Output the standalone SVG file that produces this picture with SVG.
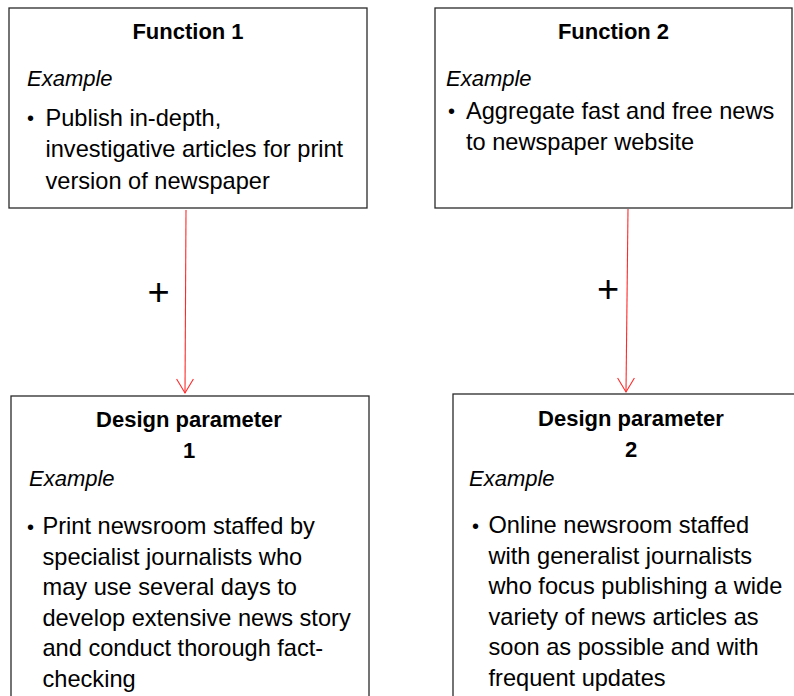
<svg xmlns="http://www.w3.org/2000/svg" width="794" height="696" viewBox="0 0 794 696">
  <style>
    .box { fill: #ffffff; stroke: #2a2a2a; stroke-width: 1.3; }
    .title { font-family: "Liberation Sans", Arial, sans-serif; font-weight: bold; font-size: 22px; fill: #000; text-anchor: middle; }
    .ex { font-family: "Liberation Sans", Arial, sans-serif; font-style: italic; font-size: 22px; fill: #000; }
    .body { font-family: "Liberation Sans", Arial, sans-serif; font-size: 23.6px; fill: #000; }
    .bullet { font-family: "Liberation Sans", Arial, sans-serif; font-size: 20px; fill: #000; }
    .plus { font-family: "Liberation Sans", Arial, sans-serif; font-size: 38px; fill: #000; text-anchor: middle; }
    .link { fill: none; stroke: #ff2a2a; stroke-width: 1.1; }
  </style>
  <rect width="794" height="696" fill="#ffffff"/>

  <g id="function1">
    <rect class="box" x="9" y="8" width="358" height="200"/>
    <text class="title" x="188" y="39">Function 1</text>
    <text class="ex" x="27" y="86">Example</text>
    <text class="bullet" x="27" y="124.5">•</text>
    <text class="body" x="45.5" y="125.5">Publish in-depth,</text>
    <text class="body" x="45.5" y="157">investigative articles for print</text>
    <text class="body" x="45.5" y="188.5">version of newspaper</text>
  </g>

  <g id="function2">
    <rect class="box" x="435" y="8" width="357" height="200"/>
    <text class="title" x="613.5" y="39">Function 2</text>
    <text class="ex" x="446" y="86">Example</text>
    <text class="bullet" x="448" y="118">•</text>
    <text class="body" x="466" y="118.5">Aggregate fast and free news</text>
    <text class="body" x="466" y="149.5">to newspaper website</text>
  </g>

  <g id="design1">
    <rect class="box" x="11" y="396" width="358" height="320"/>
    <text class="title" x="189" y="427">Design parameter</text>
    <text class="title" x="189" y="458">1</text>
    <text class="ex" x="29" y="485.5">Example</text>
    <text class="bullet" x="27" y="533.5">•</text>
    <text class="body" x="42.5" y="534">Print newsroom staffed by</text>
    <text class="body" x="42.5" y="564.6">specialist journalists who</text>
    <text class="body" x="42.5" y="595.2">may use several days to</text>
    <text class="body" x="42.5" y="625.8">develop extensive news story</text>
    <text class="body" x="42.5" y="656.4">and conduct thorough fact-</text>
    <text class="body" x="42.5" y="687">checking</text>
  </g>

  <g id="design2">
    <rect class="box" x="453" y="394" width="360" height="320"/>
    <text class="title" x="631" y="425.5">Design parameter</text>
    <text class="title" x="631" y="456.5">2</text>
    <text class="ex" x="469" y="485.5">Example</text>
    <text class="bullet" x="472" y="532.5">•</text>
    <text class="body" x="488.5" y="533">Online newsroom staffed</text>
    <text class="body" x="488.5" y="563.6">with generalist journalists</text>
    <text class="body" x="488.5" y="594.2">who focus publishing a wide</text>
    <text class="body" x="488.5" y="624.8">variety of news articles as</text>
    <text class="body" x="488.5" y="655.4">soon as possible and with</text>
    <text class="body" x="488.5" y="686">frequent updates</text>
  </g>

  <g id="connectors">
    <line class="link" x1="186" y1="210" x2="185" y2="393"/>
    <polyline class="link" points="176.6,379 185,393 193.4,379"/>
    <text class="plus" x="158.5" y="305">+</text>

    <line class="link" x1="628" y1="209" x2="626" y2="392"/>
    <polyline class="link" points="617.6,378 626,392 634.4,378"/>
    <text class="plus" x="608" y="302">+</text>
  </g>
</svg>
